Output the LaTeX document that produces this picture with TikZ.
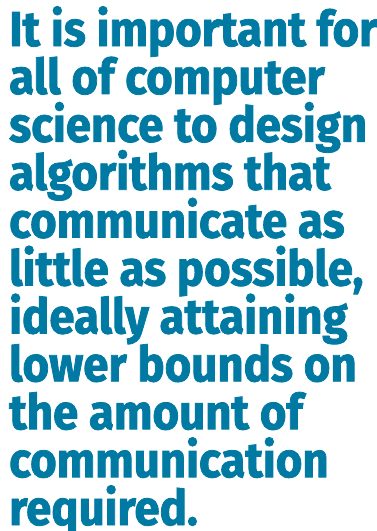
\documentclass[tikz,border=0pt]{standalone}
\usepackage{fontspec}
\setmainfont{Fira Sans}[FakeStretch=0.93, BoldFeatures={FakeBold=1.6}]
\usepackage{tikz}
\usetikzlibrary{positioning}
\definecolor{quoteblue}{RGB}{0,122,163}
\tikzstyle{quoteline} = [anchor=base west, inner sep=0pt, text=quoteblue,
    font=\fontsize{49}{47}\selectfont\bfseries]

\begin{document}
\begin{tikzpicture}[node distance=47.9pt]
    % Page frame of the pull quote
    \useasboundingbox (0pt,0pt) rectangle (377pt,-531pt);
    % One node per printed line, each placed below the previous one
    \node [quoteline] (line1) at (9pt,-46pt) {It is important for};
    \node [quoteline, below=of line1.base west, anchor=base west] (line2) {all of computer};
    \node [quoteline, below=of line2.base west, anchor=base west] (line3) {science to design};
    \node [quoteline, below=of line3.base west, anchor=base west] (line4) {algorithms that};
    \node [quoteline, below=of line4.base west, anchor=base west] (line5) {communicate as};
    \node [quoteline, below=of line5.base west, anchor=base west] (line6) {little as possible,};
    \node [quoteline, below=of line6.base west, anchor=base west] (line7) {ideally attaining};
    \node [quoteline, below=of line7.base west, anchor=base west] (line8) {lower bounds on};
    \node [quoteline, below=of line8.base west, anchor=base west] (line9) {the amount of};
    \node [quoteline, below=of line9.base west, anchor=base west] (line10) {communication};
    \node [quoteline, below=of line10.base west, anchor=base west] (line11) {required.};
\end{tikzpicture}
\end{document}
